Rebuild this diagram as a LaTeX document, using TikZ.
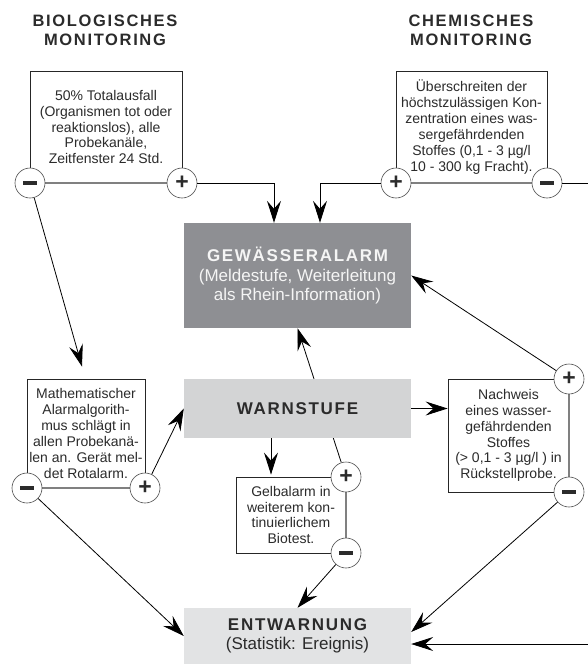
\documentclass[tikz,border=0pt]{standalone}
\usepackage{fontspec}
\setmainfont{Liberation Sans}
\newfontfamily\spacedfont[LetterSpace=10]{Liberation Sans}
\usepackage{xcolor}
\usepackage{tikz}
\usetikzlibrary{arrows.meta}
\usetikzlibrary{backgrounds}
\definecolor{alarmgray}{HTML}{8E8F93}
\definecolor{warngray}{HTML}{D3D4D5}
\definecolor{entwgray}{HTML}{E2E3E4}
\definecolor{textdark}{HTML}{2B2B2B}
\tikzset{infobox/.style={draw=black!85,line width=0.8pt,fill=white,inner sep=0pt,
           align=center,text=textdark,font=\fontsize{14}{15.9}\selectfont},
         sign/.style={circle,draw=black!70,line width=0.6pt,fill=white,
           minimum size=30pt,inner sep=0pt,text=textdark,font=\fontsize{23}{23}\bfseries},
         stage/.style={minimum width=227pt,inner sep=0pt,align=center,text=textdark,
           font=\fontsize{17}{19.5}\selectfont},
         caption/.style={align=center,text=textdark,font=\fontsize{16.5}{19}\spacedfont\bfseries},
         signline/.style={draw=black!50,line width=1.2pt},
         arrowtip/.tip={Stealth[length=22pt,width=14pt,inset=8pt]},
         arr/.style={-arrowtip,line width=0.8pt}}
\newcommand{\minusbar}{\rule{13.5pt}{3.4pt}}

\begin{document}
\begin{tikzpicture}[x=1pt,y=-1pt]
\useasboundingbox (0,0) rectangle (587,664);
\node[caption] (biotitle) at (105,30) {BIOLOGISCHES\\MONITORING};
\node[caption] (chemtitle) at (471,30) {CHEMISCHES\\MONITORING};

\node[infobox,minimum width=152pt,minimum height=112pt] (bio) at (106,127)
  {50\% Totalausfall\\(Organismen tot oder\\reaktionslos), alle\\Probekanäle,\\Zeitfenster 24 Std.};
\node[infobox,minimum width=151pt,minimum height=112pt] (chem) at (471.5,127)
  {Überschreiten der\\höchstzulässigen Kon-\\zentration eines was-\\sergefährdenden\\Stoffes (0,1 - 3 µg/l\\10 - 300 kg Fracht).};
\node[infobox,minimum width=118pt,minimum height=109pt] (math) at (86,433.5)
  {Mathematischer\\Alarmalgorith-\\mus schlägt in\\allen Probekanä-\\len an. Gerät mel-\\det Rotalarm.};
\node[infobox,minimum width=110pt,minimum height=76pt] (gelb) at (291,515)
  {Gelbalarm in\\weiterem kon-\\tinuierlichem\\Biotest.};
\node[infobox,minimum width=121pt,minimum height=113pt] (nach) at (508.5,435.5)
  {Nachweis\\eines wasser-\\gefährdenden\\Stoffes\\(> 0,1 - 3 µg/l ) in\\Rückstellprobe.};

\node[stage,fill=alarmgray,minimum height=105pt,text=white!96!black] (gew) at (297.5,275.5)
  {{\spacedfont\bfseries GEWÄSSERALARM}\\(Meldestufe, Weiterleitung\\als Rhein-Information)};
\node[stage,fill=warngray,minimum height=59pt] (warn) at (297.5,408.5)
  {\spacedfont\bfseries WARNSTUFE};
\node[stage,fill=entwgray,minimum height=56pt] (entw) at (297.5,636)
  {{\spacedfont\bfseries ENTWARNUNG}\\(Statistik: Ereignis)};

\draw[signline] (30,183) -- (182,183);
\draw[signline] (396,183) -- (547,183);
\draw[signline] (27,488) -- (145,488);
\draw[signline] (346,477) -- (346,553);
\draw[signline] (569,379) -- (569,492);

\node[sign] (biominus) at (30,183) {\minusbar};
\node[sign] (bioplus) at (182,183) {+};
\node[sign] (chemplus) at (396,183) {+};
\node[sign] (chemminus) at (547,183) {\minusbar};
\node[sign] (mathminus) at (27,488) {\minusbar};
\node[sign] (mathplus) at (145,488) {+};
\node[sign] (gelbplus) at (346,477) {+};
\node[sign] (gelbminus) at (346,553) {\minusbar};
\node[sign] (nachplus) at (569,379) {+};
\node[sign] (nachminus) at (569,492) {\minusbar};

\draw[arr] (bioplus) -| ([xshift=-23.5pt]gew.north);
\draw[arr] (chemplus) -| ([xshift=22.5pt]gew.north);
\draw[arr] (biominus) -- ([xshift=-4pt,yshift=12pt]math.north);
\draw[arr] (mathplus) -- (warn.west);
\draw[arr] (mathminus) -- (entw.west);
\draw[arr] ([xshift=-26.5pt]warn.south) -- ([xshift=-20pt,yshift=2pt]gelb.north);
\draw[arr] (warn.east) -- (warn.east -| nach.west);
\draw[arr] (gelbminus) -- (entw.north);
\draw[arr] (nachplus) -- (gew.east);
\draw[arr] (nachminus) -- ([yshift=4pt]entw.east);
\draw[arr] (chemminus) -- ++(60,0) |- ([yshift=-8pt]entw.east);
\begin{pgfonlayer}{background}
\draw[arr] (gelbplus) -- (gew.south);
\end{pgfonlayer}
\end{tikzpicture}
\end{document}
